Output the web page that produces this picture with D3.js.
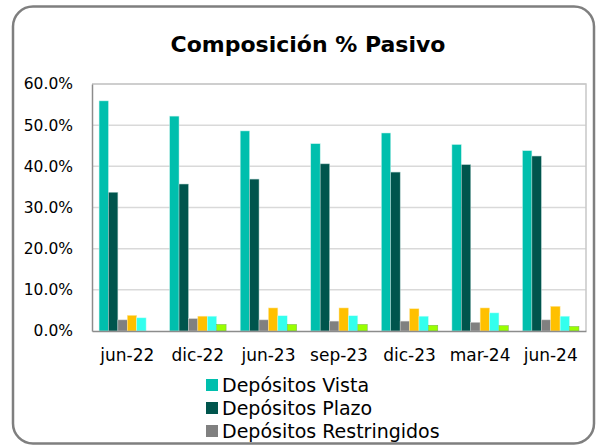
<!DOCTYPE html>
<html>
<head>
<meta charset="utf-8">
<script src="https://cdn.jsdelivr.net/npm/d3@7"></script>
<style>
  body { margin: 0; background: #fff; }
  svg { display: block; }
  text { font-family: "DejaVu Sans", sans-serif; fill: #000; }
</style>
</head>
<body>
<script>
const categories = ['jun-22', 'dic-22', 'jun-23', 'sep-23', 'dic-23', 'mar-24', 'jun-24'];
const seriesNames = ['Depósitos Vista', 'Depósitos Plazo', 'Depósitos Restringidos', 'Obligaciones', 'Otros Pasivos', 'Otros'];
const vista = [55.9, 52.2, 48.6, 45.5, 48.1, 45.3, 43.8];
const plazo = [33.7, 35.7, 36.9, 40.6, 38.6, 40.4, 42.5];
const restringidos = [2.7, 3.0, 2.7, 2.4, 2.4, 2.1, 2.7];
const obligaciones = [3.8, 3.6, 5.6, 5.6, 5.4, 5.6, 6.0];
const otrosPasivos = [3.2, 3.6, 3.7, 3.7, 3.6, 4.4, 3.6];
const otros = [0, 1.6, 1.6, 1.6, 1.4, 1.3, 1.1];
const yTicks = [0, 10, 20, 30, 40, 50, 60];

const seriesValues = [vista, plazo, restringidos, obligaciones, otrosPasivos, otros];
const colors = ['#00BFAD', '#00554D', '#808080', '#FFC000', '#33FFEE', '#99FF00'];
const strokes = ['#c8f2ec', '#a8ccc8', '#cfcfcf', '#ffe6a0', '#c8fff8', '#78b050'];

const W = 596, H = 446;
const m = { left: 92, right: 586, top: 84, bottom: 331 };

const svg = d3.select('body').append('svg').attr('width', W).attr('height', H);

// outer rounded frame
svg.append('rect')
  .attr('x', 13).attr('y', 6.5).attr('width', 581).attr('height', 437)
  .attr('rx', 20).attr('ry', 20)
  .attr('fill', '#fff').attr('stroke', '#7f7f7f').attr('stroke-width', 2.5);

svg.append('text')
  .attr('x', 308).attr('y', 52)
  .attr('text-anchor', 'middle')
  .attr('font-size', 22).attr('font-weight', 'bold')
  .text('Composición % Pasivo');

const x0 = d3.scaleBand().domain(categories).range([m.left, m.right]).paddingInner(0.2).paddingOuter(0.1);
const x1 = d3.scaleBand().domain(d3.range(seriesValues.length)).range([0, x0.bandwidth()]);
const y = d3.scaleLinear().domain([0, 60]).range([m.bottom, m.top]);

// gridlines
svg.append('g')
  .selectAll('line')
  .data(yTicks.slice(1))
  .join('line')
  .attr('x1', m.left).attr('x2', m.right)
  .attr('y1', d => y(d)).attr('y2', d => y(d))
  .attr('stroke', '#d9d9d9').attr('stroke-width', 1.5);

// plot frame (right & top light)
svg.append('path')
  .attr('d', `M${m.left},${m.top}H${m.right}V${m.bottom}`)
  .attr('fill', 'none').attr('stroke', '#c8c8c8').attr('stroke-width', 1.5);

// bars
const groups = svg.append('g')
  .selectAll('g')
  .data(categories)
  .join('g')
  .attr('transform', d => `translate(${x0(d)},0)`);

groups.selectAll('rect')
  .data((c, ci) => seriesValues.map((vals, si) => ({ si, v: vals[ci] })).filter(d => d.v > 0))
  .join('rect')
  .attr('x', d => x1(d.si))
  .attr('width', x1.bandwidth())
  .attr('y', d => y(d.v))
  .attr('height', d => y(0) - y(d.v))
  .attr('fill', d => colors[d.si])
  .attr('stroke', d => strokes[d.si])
  .attr('stroke-width', 0.5);

// axes
const yAxis = svg.append('g')
  .attr('transform', `translate(${m.left},0)`)
  .call(d3.axisLeft(y).tickValues(yTicks).tickSize(0).tickPadding(19).tickFormat(d => d.toFixed(1) + '%'));
yAxis.select('.domain').attr('stroke', '#8c8c8c').attr('stroke-width', 1.5);
yAxis.selectAll('text').attr('font-size', 15.5).attr('font-family', '"DejaVu Sans", sans-serif');

const xAxis = svg.append('g')
  .attr('transform', `translate(0,${m.bottom})`)
  .call(d3.axisBottom(x0).tickSize(0).tickPadding(18));
xAxis.select('.domain').attr('stroke', '#8c8c8c').attr('stroke-width', 1.5);
xAxis.selectAll('text').attr('font-size', 17).attr('font-family', '"DejaVu Sans", sans-serif');

// legend (only first three fit in the frame)
const legend = svg.append('g')
  .selectAll('g')
  .data(seriesNames.slice(0, 3))
  .join('g')
  .attr('transform', (d, i) => `translate(206,${385 + i * 23})`);
legend.append('rect')
  .attr('x', 0).attr('y', -6).attr('width', 12).attr('height', 12)
  .attr('fill', (d, i) => colors[i]);
legend.append('text')
  .attr('x', 16).attr('y', 0).attr('dy', '0.35em')
  .attr('font-size', 19)
  .text(d => d);
</script>
</body>
</html>
